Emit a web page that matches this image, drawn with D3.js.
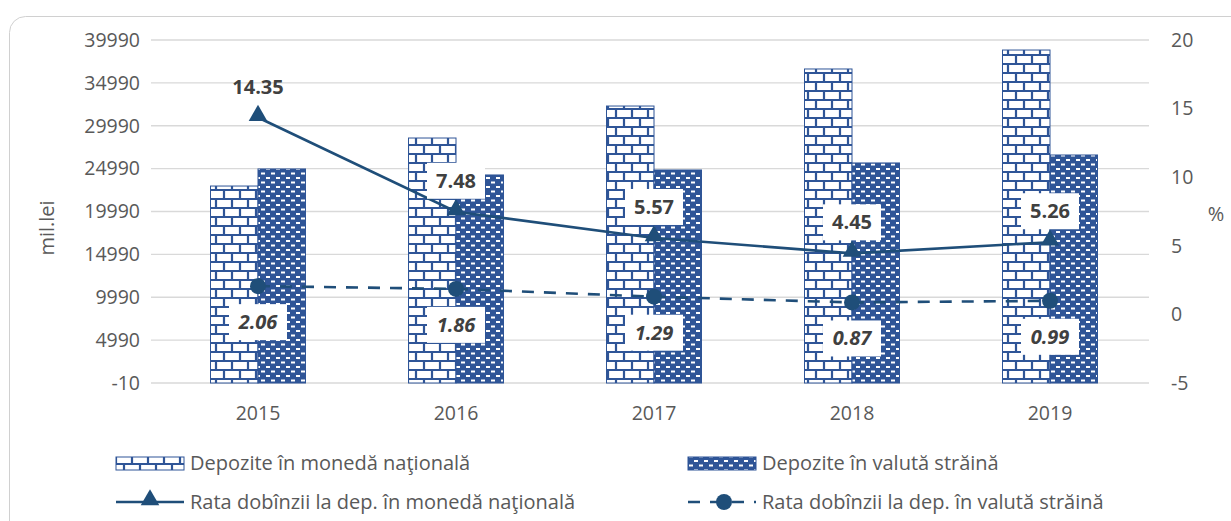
<!DOCTYPE html>
<html>
<head>
<meta charset="utf-8">
<script src="https://cdn.jsdelivr.net/npm/d3@7"></script>
<style>
  body { margin: 0; background: #fff; }
  svg text { font-family: "Open Sans", "DejaVu Sans", sans-serif; }
</style>
</head>
<body>
<div id="main"></div>
<script>
const years = ["2015", "2016", "2017", "2018", "2019"];
const depNational = [22960, 28560, 32290, 36610, 38820];
const depForeign = [24950, 24250, 24830, 25650, 26580];
const rateNational = [14.35, 7.48, 5.57, 4.45, 5.26];
const rateForeign = [2.06, 1.86, 1.29, 0.87, 0.99];
const leftTicks = [-10, 4990, 9990, 14990, 19990, 24990, 29990, 34990, 39990];
const rightTicks = [-5, 0, 5, 10, 15, 20];

const seriesNames = ["Depozite în monedă naţională", "Depozite în valută străină",
  "Rata dobînzii la dep. în monedă naţională", "Rata dobînzii la dep. în valută străină"];

const width = 1231;
const height = 521;
const blue = "#2f5597";
const lineBlue = "#1f4e79";
const textCol = "#595959";

const svg = d3.select("#main")
  .append("svg")
  .attr("width", width)
  .attr("height", height);

const defs = svg.append("defs");

// brick pattern for national deposits
const brick = defs.append("pattern")
  .attr("id", "brick")
  .attr("patternUnits", "userSpaceOnUse")
  .attr("width", 32)
  .attr("height", 18);
brick.append("rect").attr("width", 32).attr("height", 18).attr("fill", "#fff");
brick.append("path")
  .attr("d", "M0,1 H32 M0,10 H32 M8,1 V10 M24,1 V10 M0,10 V18 M16,10 V18 M32,10 V18")
  .attr("stroke", blue)
  .attr("stroke-width", 2.2)
  .attr("fill", "none");

// small dashes pattern for foreign deposits
const dash = defs.append("pattern")
  .attr("id", "dash")
  .attr("patternUnits", "userSpaceOnUse")
  .attr("width", 10)
  .attr("height", 9);
dash.append("rect").attr("width", 10).attr("height", 9).attr("fill", blue);
dash.append("rect").attr("x", 1).attr("y", 1.5).attr("width", 4).attr("height", 2).attr("fill", "#fff");
dash.append("rect").attr("x", 6).attr("y", 6).attr("width", 4).attr("height", 2).attr("fill", "#fff");

// outer frame
svg.append("rect")
  .attr("x", 9.5)
  .attr("y", 16.5)
  .attr("width", width + 20)
  .attr("height", height + 20)
  .attr("rx", 16)
  .attr("fill", "none")
  .attr("stroke", "#d0d0d0");

const plotLeft = 159;
const plotRight = 1149;
const plotTop = 40;
const plotBottom = 383;

const x = d3.scaleBand()
  .domain(years)
  .range([plotLeft, plotRight]);

const xInner = d3.scaleBand()
  .domain(["nat", "for"])
  .range([0, 95]);

const yLeft = d3.scaleLinear()
  .domain([-10, 39990])
  .range([plotBottom, plotTop]);

const yRight = d3.scaleLinear()
  .domain([-5, 20])
  .range([plotBottom, plotTop]);

// gridlines
svg.append("g")
  .selectAll("line")
  .data(leftTicks)
  .enter()
  .append("line")
  .attr("x1", plotLeft - 8)
  .attr("x2", plotRight)
  .attr("y1", d => yLeft(d))
  .attr("y2", d => yLeft(d))
  .attr("stroke", "#d9d9d9")
  .attr("stroke-width", 1.3);

const yAxisLeft = d3.axisLeft(yLeft)
  .tickValues(leftTicks)
  .tickFormat(d => String(d))
  .tickSize(0)
  .tickPadding(0);

const gl = svg.append("g")
  .attr("transform", "translate(140,0)")
  .call(yAxisLeft);
gl.select(".domain").remove();
gl.selectAll("text").attr("fill", textCol).style("font-size", "19.5px");

const yAxisRight = d3.axisRight(yRight)
  .tickValues(rightTicks)
  .tickFormat(d => String(d))
  .tickSize(0)
  .tickPadding(0);

const gr = svg.append("g")
  .attr("transform", "translate(1171,0)")
  .call(yAxisRight);
gr.select(".domain").remove();
gr.selectAll("text").attr("fill", textCol).style("font-size", "19.5px");

const xAxis = d3.axisBottom(x).tickSize(0).tickPadding(0);
const gx = svg.append("g")
  .attr("transform", "translate(0,420)")
  .call(xAxis);
gx.select(".domain").remove();
gx.selectAll("text").attr("fill", textCol).style("font-size", "19.5px").attr("dy", "0");

svg.append("text")
  .attr("transform", "translate(54,228) rotate(-90)")
  .style("text-anchor", "middle")
  .style("font-size", "20px")
  .attr("fill", textCol)
  .text("mil.lei");

svg.append("text")
  .attr("x", 1216)
  .attr("y", 221)
  .style("text-anchor", "middle")
  .style("font-size", "20px")
  .attr("fill", textCol)
  .text("%");

// bars
const bars = svg.append("g");
years.forEach((yr, i) => {
  const left = x(yr) + x.bandwidth() / 2 - 47.5;
  bars.append("rect")
    .attr("x", left + xInner("nat"))
    .attr("y", yLeft(depNational[i]))
    .attr("width", xInner.bandwidth())
    .attr("height", yLeft(-10) - yLeft(depNational[i]))
    .attr("fill", "url(#brick)")
    .attr("stroke", blue)
    .attr("stroke-width", 1);
  bars.append("rect")
    .attr("x", left + xInner("for"))
    .attr("y", yLeft(depForeign[i]))
    .attr("width", xInner.bandwidth())
    .attr("height", yLeft(-10) - yLeft(depForeign[i]))
    .attr("fill", "url(#dash)")
    .attr("stroke", blue)
    .attr("stroke-width", 1);
});

const cx = d => x(d) + x.bandwidth() / 2;

const line = d3.line()
  .x(d => cx(d.year))
  .y(d => yRight(d.v));

const natData = years.map((yr, i) => ({ year: yr, v: rateNational[i] }));
const forData = years.map((yr, i) => ({ year: yr, v: rateForeign[i] }));

svg.append("path")
  .datum(natData)
  .attr("d", line)
  .attr("fill", "none")
  .attr("stroke", lineBlue)
  .attr("stroke-width", 2.6);

svg.append("path")
  .datum(forData)
  .attr("d", line)
  .attr("fill", "none")
  .attr("stroke", lineBlue)
  .attr("stroke-width", 2.6)
  .attr("stroke-dasharray", "12,10");

const triangle = d3.symbol().type(d3.symbolTriangle).size(150);

svg.append("g")
  .selectAll("path")
  .data(natData)
  .enter()
  .append("path")
  .attr("d", triangle)
  .attr("transform", d => "translate(" + cx(d.year) + "," + (yRight(d.v) - 2) + ")")
  .attr("fill", lineBlue);

svg.append("g")
  .selectAll("circle")
  .data(forData)
  .enter()
  .append("circle")
  .attr("cx", d => cx(d.year))
  .attr("cy", d => yRight(d.v))
  .attr("r", 8)
  .attr("fill", lineBlue);

// data labels
const addLabel = (d, dy, italic, box) => {
  const g = svg.append("g")
    .attr("transform", "translate(" + cx(d.year) + "," + (yRight(d.v) + dy) + ")");
  if (box) {
    g.append("rect")
      .attr("x", -29)
      .attr("y", -18)
      .attr("width", 58)
      .attr("height", 36)
      .attr("fill", "#fff");
  }
  g.append("text")
    .attr("text-anchor", "middle")
    .attr("dy", "0.35em")
    .style("font-size", "20px")
    .style("font-weight", "bold")
    .style("font-style", italic ? "italic" : "normal")
    .attr("fill", "#404040")
    .text(d.v.toFixed(2));
};

natData.forEach((d, i) => addLabel(d, -31, false, i > 0));
forData.forEach(d => addLabel(d, 36, true, true));

// legend
const legend = svg.append("g");
const legendItems = [
  { x: 116, y: 463, kind: "brick", name: seriesNames[0] },
  { x: 688, y: 463, kind: "dash", name: seriesNames[1] },
  { x: 116, y: 502, kind: "tri", name: seriesNames[2] },
  { x: 688, y: 502, kind: "dot", name: seriesNames[3] }
];

legendItems.forEach(item => {
  const g = legend.append("g").attr("transform", "translate(" + item.x + "," + item.y + ")");
  if (item.kind === "brick" || item.kind === "dash") {
    g.append("rect")
      .attr("x", 0)
      .attr("y", -6)
      .attr("width", 68)
      .attr("height", 13)
      .attr("fill", item.kind === "brick" ? "url(#brick)" : "url(#dash)")
      .attr("stroke", blue)
      .attr("stroke-width", 1);
  } else {
    g.append("line")
      .attr("x1", 0)
      .attr("x2", 68)
      .attr("y1", 0)
      .attr("y2", 0)
      .attr("stroke", lineBlue)
      .attr("stroke-width", 2.6)
      .attr("stroke-dasharray", item.kind === "dot" ? "12,10" : null);
    if (item.kind === "tri") {
      g.append("path")
        .attr("d", triangle)
        .attr("transform", "translate(34,-2)")
        .attr("fill", lineBlue);
    } else {
      g.append("circle")
        .attr("cx", 36)
        .attr("cy", 0)
        .attr("r", 8)
        .attr("fill", lineBlue);
    }
  }
  g.append("text")
    .attr("x", 74)
    .attr("dy", "0.35em")
    .style("font-size", "20px")
    .attr("fill", textCol)
    .text(item.name);
});
</script>
</body>
</html>
